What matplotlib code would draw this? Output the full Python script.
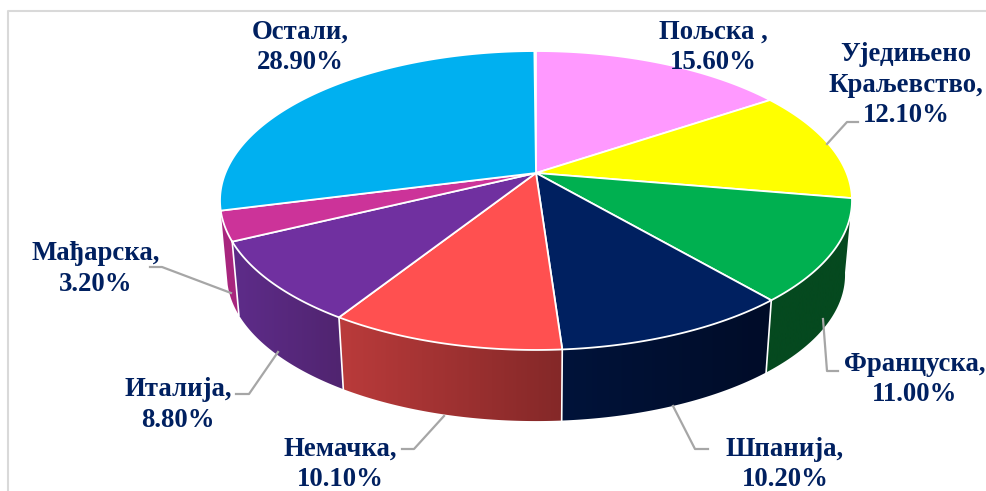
import numpy as np
import matplotlib
matplotlib.use("Agg")
import matplotlib.pyplot as plt
from matplotlib.colors import to_rgb
from matplotlib.patches import Polygon

plt.rcParams['font.family'] = ['Liberation Serif', 'DejaVu Serif']

labels = ["Пољска ,", "Уједињено\nКраљевство,", "Француска,", "Шпанија,",
          "Немачка,", "Италија,", "Мађарска,", "Остали,"]
values = [15.6, 12.1, 11.0, 10.2, 10.1, 8.8, 3.2, 28.9]

top_colors = ["#FF99FF", "#FFFF00", "#00B050", "#002060",
              "#FF5050", "#7030A0", "#CC3399", "#00B0F0"]
side_left = [None, None, "#05491F", "#00133A",
             "#BA3B3B", "#5E2C8A", "#A8267E", None]
side_right = [None, None, "#05491F", "#000C28",
              "#842828", "#50246F", "#A8267E", None]

label_pos = [(713, 47.5), (906, 85), (915, 379.5), (785, 464.5),
             (340, 464.5), (178, 405), (96, 269), (300, 47.5)]
leaders = [None,
           [(858, 122), (847, 122), (827, 144)],
           [(838, 371), (827, 371), (823, 319)],
           [(708, 449), (695, 449), (673, 406)],
           [(402, 449), (414, 449), (444, 416)],
           [(236, 394), (249, 394), (278, 352)],
           [(150, 267), (162, 267), (231, 293)],
           None]

# perspective of the pie disc
cx, cy = 536, 173
a, b, k = 310.6, 144.4, 0.184
shrink, drop = 0.978, 75


def rim(theta, bottom=False):
    u, v = np.sin(theta), np.cos(theta)
    x = a * u / (1 + k * v)
    y = -b * v / (1 + k * v)
    if bottom:
        return cx + shrink * x, cy + drop + shrink * y
    return cx + x, cy + y


fig = plt.figure(figsize=(9.87, 4.91), dpi=100)
ax = fig.add_axes([0, 0, 1, 1])
ax.axis("off")

# chart frame
ax.plot([7.5, 7.5, 987], [491, 10.5, 10.5], color="#D9D9D9", lw=1.5, zorder=1)

edges = np.radians(np.concatenate([[0], np.cumsum(values)]) * 3.6)

# sides, a gradient clipped to each visible piece
for i in range(len(values)):
    if side_left[i] is None:
        continue
    th = np.linspace(edges[i], edges[i + 1], 80)
    xt, yt = rim(th)
    xb, yb = rim(th, bottom=True)
    shape = Polygon(np.c_[np.r_[xt, xb[::-1]], np.r_[yt, yb[::-1]]],
                    facecolor="none", edgecolor="none", transform=ax.transData)
    ax.add_patch(shape)
    c0, c1 = np.array(to_rgb(side_left[i])), np.array(to_rgb(side_right[i]))
    grad = np.linspace(0, 1, 256)[None, :, None]
    img = ax.imshow(c0 + (c1 - c0) * grad, aspect="auto", zorder=2,
                    extent=(min(xt.min(), xb.min()), max(xt.max(), xb.max()), 491, 0))
    img.set_clip_path(shape)

# white seams between the side pieces
for e in edges[3:7]:
    xt, yt = rim(e)
    xb, yb = rim(e, bottom=True)
    ax.plot([xt, xb], [yt, yb], color="white", lw=1.2, zorder=3)

# top faces
for i in range(len(values)):
    th = np.linspace(edges[i], edges[i + 1], 200)
    xt, yt = rim(th)
    ax.fill(np.r_[cx, xt], np.r_[cy, yt], facecolor=top_colors[i],
            edgecolor="white", lw=1.3, joinstyle="round", zorder=4)

for line in leaders:
    if line:
        xs, ys = zip(*line)
        ax.plot(xs, ys, color="#A6A6A6", lw=1.6, zorder=5)

for name, val, (x, y) in zip(labels, values, label_pos):
    ax.text(x, y, f"{name}\n{val:.2f}%", ha="center", va="center", fontsize=19.3,
            fontweight="bold", color="#002060", linespacing=1.27, zorder=6)

ax.set_xlim(0, 987)
ax.set_ylim(491, 0)
fig.savefig("out.png", dpi=100)
